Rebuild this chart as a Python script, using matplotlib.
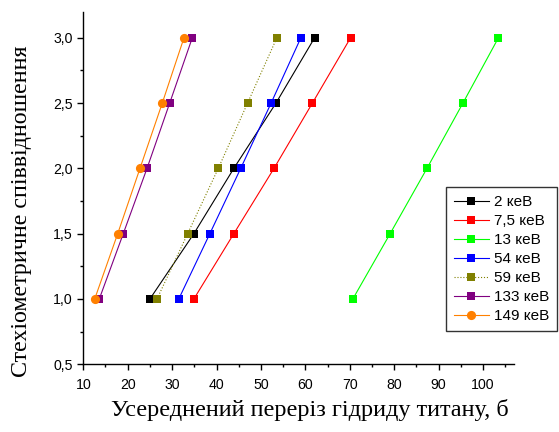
import matplotlib
matplotlib.use("Agg")
import matplotlib.pyplot as plt
from matplotlib.ticker import MultipleLocator, FuncFormatter

y_vals = [1.0, 1.5, 2.0, 2.5, 3.0]
labels = ["2 кеВ", "7,5 кеВ", "13 кеВ", "54 кеВ", "59 кеВ", "133 кеВ", "149 кеВ"]
x_2 = [25.0, 34.9, 43.9, 53.4, 62.1]
x_7_5 = [34.9, 43.9, 52.95, 61.6, 70.2]
x_13 = [70.7, 79.1, 87.4, 95.5, 103.5]
x_54 = [31.5, 38.5, 45.45, 52.3, 59.0]
x_59 = [26.6, 33.5, 40.4, 47.0, 53.6]
x_133 = [13.6, 19.0, 24.35, 29.46, 34.55]
x_149 = [12.57, 17.75, 22.77, 27.79, 32.68]
series = [x_2, x_7_5, x_13, x_54, x_59, x_133, x_149]

colors = ["#000000", "#FF0000", "#00FF00", "#0000FF", "#808000", "#800080", "#FF8000"]
markers = ["s", "s", "s", "s", "s", "s", "o"]
styles = ["-", "-", "-", "-", ":", "-", "-"]

fig = plt.figure(figsize=(5.59, 4.32), dpi=100)
ax = fig.add_axes([0.149, 0.1567, 0.7705, 0.8164])

handles = []
for xs, lab, c, m, ls in zip(series, labels, colors, markers, styles):
    ms = 6.6 if m == "o" else 5.8
    h, = ax.plot(xs, y_vals, linestyle=ls, color=c, lw=0.8, marker=m,
                 markersize=ms, markeredgewidth=0, label=lab)
    handles.append(h)

ax.set_xlim(10, 107)
ax.set_ylim(0.5, 3.2)
ax.xaxis.set_major_locator(MultipleLocator(10))
ax.xaxis.set_minor_locator(MultipleLocator(5))
ax.yaxis.set_major_locator(MultipleLocator(0.5))
ax.yaxis.set_minor_locator(MultipleLocator(0.25))
ax.yaxis.set_major_formatter(FuncFormatter(lambda v, p: f"{v:.1f}".replace(".", ",")))
ax.xaxis.set_major_formatter(FuncFormatter(lambda v, p: f"{int(round(v))}"))

for s in ["top", "right"]:
    ax.spines[s].set_visible(False)
for s in ["left", "bottom"]:
    ax.spines[s].set_linewidth(1.0)

ax.tick_params(which="major", direction="out", length=4.5, width=1.0,
               labelsize=10.2, pad=3)
ax.tick_params(axis="x", which="major", pad=5)
ax.tick_params(which="minor", direction="out", length=2.5, width=1.0)
for t in ax.get_xticklabels() + ax.get_yticklabels():
    t.set_fontfamily("Liberation Sans")

fig.text(310 / 559, 1 - 410 / 432, "Усереднений переріз гідриду титану, б",
         ha="center", va="center", fontsize=17.5, family="Liberation Serif")
fig.text(22 / 559, 1 - 211 / 432, "Стехіометричне співвідношення",
         ha="center", va="center", rotation=90, fontsize=17.3, family="Liberation Serif")

leg = fig.legend(handles=handles, loc="upper left",
                 bbox_to_anchor=(446 / 559, 1 - 187.3 / 432),
                 prop={"family": "Liberation Sans", "size": 11},
                 frameon=True, fancybox=False, edgecolor="black",
                 borderpad=0.5, labelspacing=0.33, handlelength=2.3,
                 handletextpad=0.35, borderaxespad=0)
leg.get_frame().set_linewidth(1.0)

fig.savefig("out.png", dpi=100)
